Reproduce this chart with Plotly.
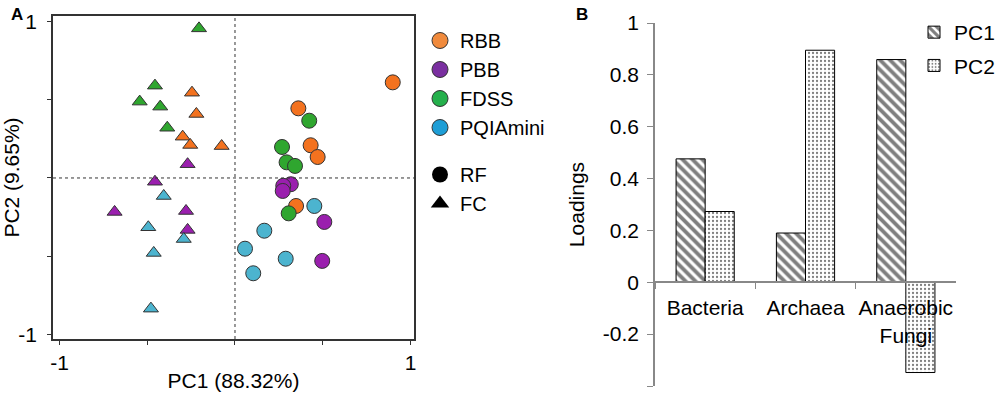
import plotly.graph_objects as go

# ---------------- Panel A data (PCA scores) ----------------
groups = ["RBB", "PBB", "FDSS", "PQIAmini"]
plot_colors = {"RBB": "#F3721F", "PBB": "#9A1FAE", "FDSS": "#2FA62F", "PQIAmini": "#4CB4CF"}
legend_colors = {"RBB": "#F08A3C", "PBB": "#7A2FA0", "FDSS": "#25B04C", "PQIAmini": "#1E9ED6"}

# RF (circles)
rf_rbb_x = [0.899, 0.361, 0.431, 0.471, 0.348]
rf_rbb_y = [0.611, 0.445, 0.209, 0.134, -0.179]
rf_pbb_x = [0.318, 0.275, 0.272, 0.509, 0.497]
rf_pbb_y = [-0.040, -0.050, -0.083, -0.281, -0.530]
rf_fdss_x = [0.423, 0.268, 0.294, 0.342, 0.306]
rf_fdss_y = [0.366, 0.198, 0.100, 0.077, -0.226]
rf_pqia_x = [0.452, 0.167, 0.057, 0.289, 0.104]
rf_pqia_y = [-0.179, -0.337, -0.452, -0.516, -0.609]

# FC (triangles)
fc_rbb_x = [-0.245, -0.220, -0.298, -0.255, -0.076]
fc_rbb_y = [0.545, 0.409, 0.264, 0.211, 0.204]
fc_pbb_x = [-0.270, -0.456, -0.686, -0.279, -0.270]
fc_pbb_y = [0.088, -0.024, -0.217, -0.211, -0.332]
fc_fdss_x = [-0.205, -0.456, -0.543, -0.426, -0.386]
fc_fdss_y = [0.956, 0.590, 0.488, 0.456, 0.321]
fc_pqia_x = [-0.406, -0.494, -0.292, -0.463, -0.479]
fc_pqia_y = [-0.115, -0.315, -0.390, -0.479, -0.835]

# ---------------- Panel B data (loadings) ----------------
taxa = ["Bacteria", "Archaea", "Anaerobic<br>Fungi"]
pc1_loadings = [0.476, 0.190, 0.859]
pc2_loadings = [0.273, 0.895, -0.348]
b_tickvals = [-0.4, -0.2, 0, 0.2, 0.4, 0.6, 0.8, 1]

FONT = "Arial, Liberation Sans, sans-serif"

fig = go.Figure()

rf = {"RBB": (rf_rbb_x, rf_rbb_y), "PBB": (rf_pbb_x, rf_pbb_y),
      "FDSS": (rf_fdss_x, rf_fdss_y), "PQIAmini": (rf_pqia_x, rf_pqia_y)}
fc = {"RBB": (fc_rbb_x, fc_rbb_y), "PBB": (fc_pbb_x, fc_pbb_y),
      "FDSS": (fc_fdss_x, fc_fdss_y), "PQIAmini": (fc_pqia_x, fc_pqia_y)}

for g in groups:
    x, y = fc[g]
    fig.add_trace(go.Scatter(x=x, y=y, mode="markers", showlegend=False,
                             marker=dict(symbol="triangle-up", size=13, color=plot_colors[g],
                                         line=dict(color="#333333", width=1)),
                             xaxis="x", yaxis="y"))
for g in groups:
    x, y = rf[g]
    fig.add_trace(go.Scatter(x=x, y=y, mode="markers", showlegend=False,
                             marker=dict(symbol="circle", size=15, color=plot_colors[g],
                                         line=dict(color="#333333", width=1)),
                             xaxis="x", yaxis="y"))

# legend entries for panel A
for g in groups:
    fig.add_trace(go.Scatter(x=[None], y=[None], mode="markers", name=g, legend="legend",
                             legendgroup="colors",
                             marker=dict(symbol="circle", size=16, color=legend_colors[g],
                                         line=dict(color="#333333", width=1)),
                             xaxis="x", yaxis="y"))
fig.add_trace(go.Scatter(x=[None], y=[None], mode="markers", name="RF", legend="legend",
                         legendgroup="shapes",
                         marker=dict(symbol="circle", size=16, color="black"),
                         xaxis="x", yaxis="y"))
fig.add_trace(go.Scatter(x=[None], y=[None], mode="markers", name="FC", legend="legend",
                         legendgroup="shapes",
                         marker=dict(symbol="triangle-up", size=16, color="black"),
                         xaxis="x", yaxis="y"))

# Panel B bars
fig.add_trace(go.Bar(x=taxa, y=pc1_loadings, name="PC1", legend="legend2", legendgroup="pc1",
                     marker=dict(color="white", line=dict(color="black", width=1),
                                 pattern=dict(shape="\\", fgcolor="black", bgcolor="white",
                                              size=7, solidity=0.55)),
                     xaxis="x2", yaxis="y2"))
fig.add_trace(go.Bar(x=taxa, y=pc2_loadings, name="PC2", legend="legend2", legendgroup="pc2",
                     marker=dict(color="white", line=dict(color="black", width=1),
                                 pattern=dict(shape=".", fgcolor="black", bgcolor="white",
                                              size=4, solidity=0.25)),
                     xaxis="x2", yaxis="y2"))

W, H = 1000, 396
ya_dom = [1 - 339 / H, 1 - 16 / H]
yb_dom = [1 - 386 / H, 1 - 23 / H]
yb_range = [-0.4, 1.0]
zero_pos = yb_dom[0] + (0 - yb_range[0]) / (yb_range[1] - yb_range[0]) * (yb_dom[1] - yb_dom[0])

fig.update_layout(
    width=W, height=H,
    margin=dict(l=0, r=0, t=0, b=0, autoexpand=False),
    paper_bgcolor="white", plot_bgcolor="white",
    font=dict(family=FONT, size=20, color="black"),
    barmode="group", bargap=0.42, bargroupgap=0,
    xaxis=dict(domain=[53 / W, 414 / W], range=[-1.037, 1.02], automargin=False,
               tickvals=[-1, -0.5, 0, 0.5, 1], ticktext=["-1", "", "", "", "1"],
               ticks="outside", ticklen=4, tickcolor="#333", showgrid=False, zeroline=False,
               showline=True, linecolor="#333", linewidth=1.5, mirror=True,
               ticklabelstandoff=0, tickfont=dict(size=21),
               title=dict(text="PC1 (88.32%)", font=dict(size=21), standoff=0),
               anchor="y"),
    yaxis=dict(domain=ya_dom, range=[-1.029, 1.035], automargin=False,
               tickvals=[-1, -0.5, 0, 0.5, 1], ticktext=["-1", "", "", "", "1"],
               ticks="outside", ticklen=4, tickcolor="#333", showgrid=False, zeroline=False,
               showline=True, linecolor="#333", linewidth=1.5, mirror=True,
               ticklabelstandoff=6, tickfont=dict(size=21),
               title=dict(text="PC2 (9.65%)", font=dict(size=21), standoff=0),
               anchor="x"),
    xaxis2=dict(domain=[655 / W, 956 / W], anchor="free", position=zero_pos, automargin=False,
                type="category", tickson="boundaries", ticks="outside", ticklen=6,
                tickangle=0,
                tickcolor="#888", showline=True, linecolor="#888", linewidth=1.5,
                showgrid=False, zeroline=False, tickfont=dict(size=21),
                ticklabelstandoff=7),
    yaxis2=dict(domain=yb_dom, range=yb_range, anchor="x2", automargin=False,
                tickvals=b_tickvals, ticktext=[f"{v:g}" for v in b_tickvals],
                ticks="outside", ticklen=6, tickcolor="#888", showline=True,
                linecolor="#888", linewidth=1.5, showgrid=False, zeroline=False,
                tickfont=dict(size=21), ticklabelstandoff=4,
                title=dict(text="Loadings", font=dict(size=21), standoff=13)),
    legend=dict(x=420 / W, y=1 - 21 / H, xanchor="left", yanchor="top",
                font=dict(size=20), tracegroupgap=18, bgcolor="rgba(0,0,0,0)",
                itemclick=False),
    legend2=dict(x=914 / W, y=1 - 12 / H, xanchor="left", yanchor="top",
                 font=dict(size=21), tracegroupgap=3, bgcolor="rgba(0,0,0,0)"),
    shapes=[
        dict(type="line", xref="x", yref="y domain", x0=0, x1=0, y0=0, y1=1,
             line=dict(color="#333", width=1, dash="dot")),
        dict(type="line", xref="x domain", yref="y", x0=0, x1=1, y0=0, y1=0,
             line=dict(color="#333", width=1, dash="dot")),
    ],
    annotations=[
        dict(text="<b>A</b>", x=17 / W, y=1 - 14 / H, xref="paper", yref="paper",
             xanchor="center", yanchor="middle",
             showarrow=False, font=dict(size=17, family="Arial, Liberation Sans")),
        dict(text="<b>B</b>", x=582 / W, y=1 - 15 / H, xref="paper", yref="paper",
             xanchor="center", yanchor="middle",
             showarrow=False, font=dict(size=17, family="Arial, Liberation Sans")),
    ],
)

fig.write_html("out.html", config={"displayModeBar": False},
               post_script="document.body.style.margin='0px';")
